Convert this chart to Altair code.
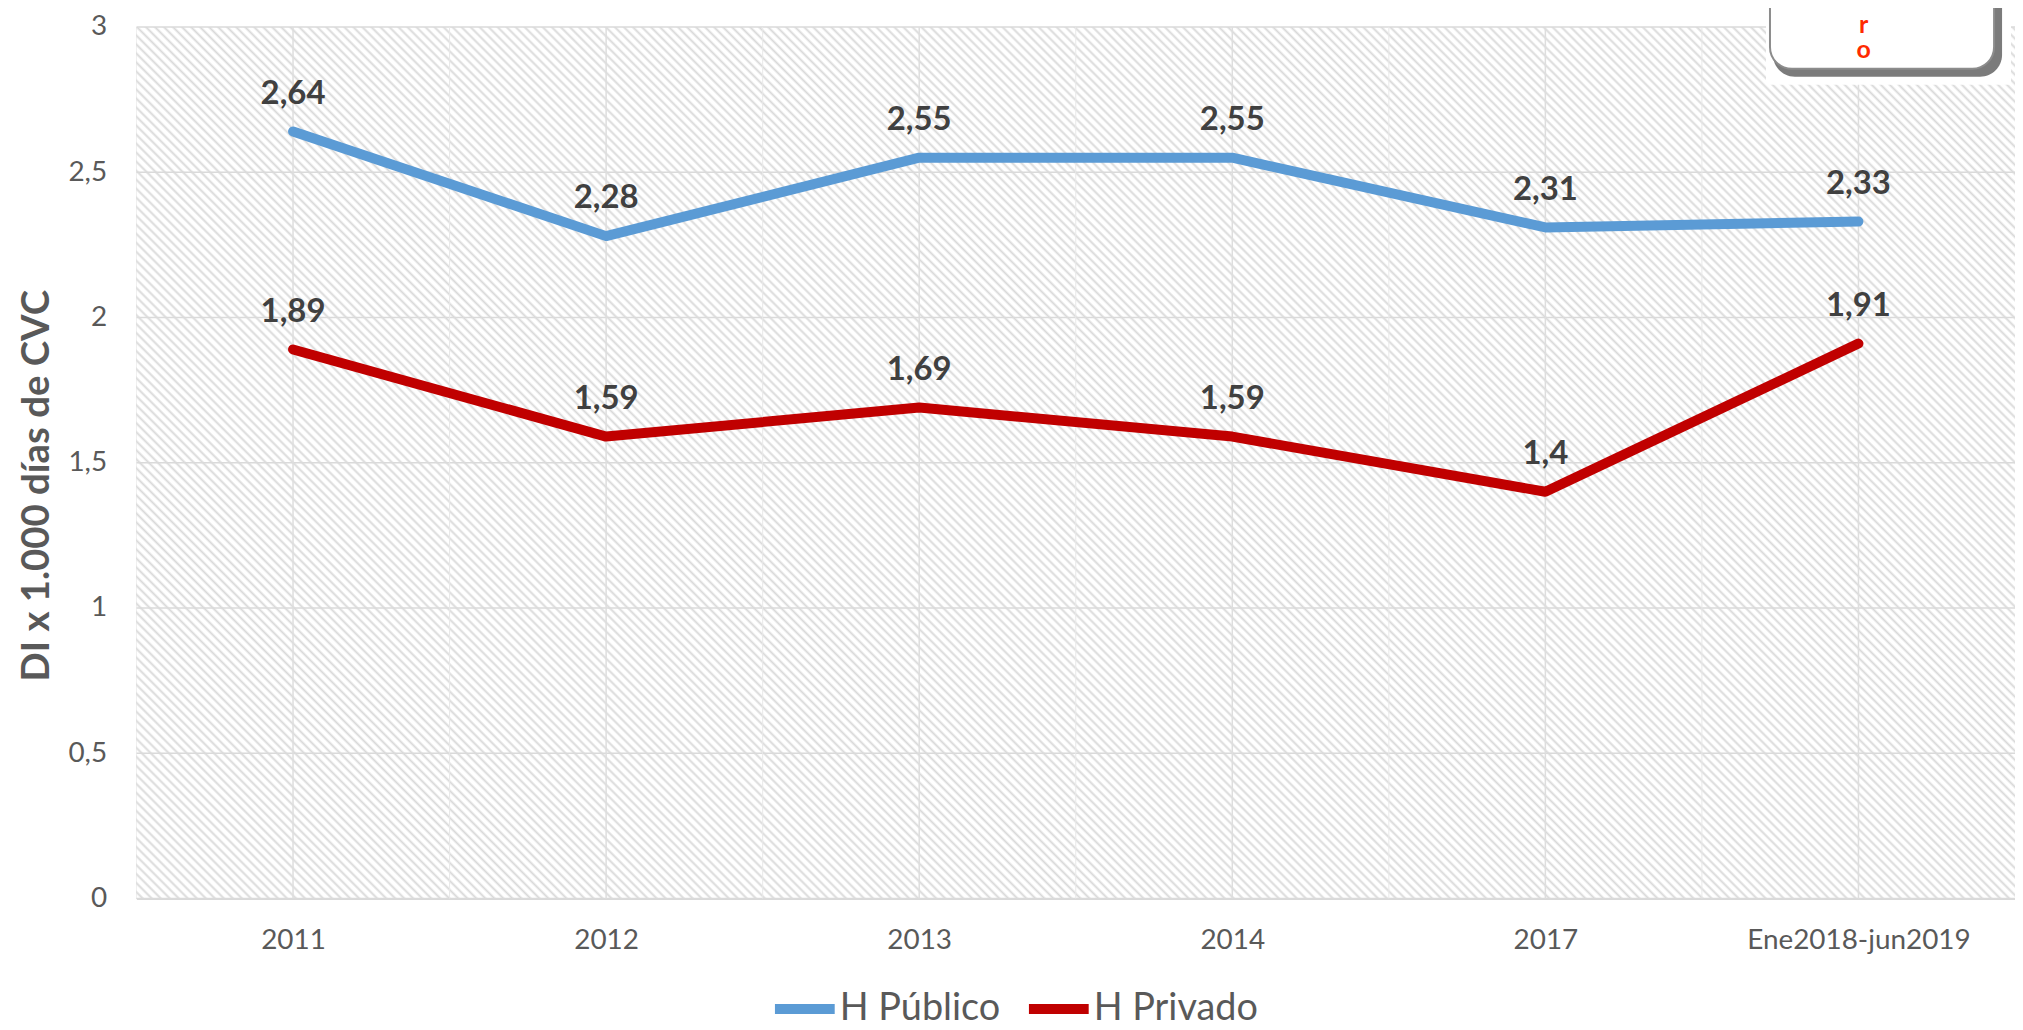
import altair as alt
import pandas as pd

# ---- data ----
categories = ["2011", "2012", "2013", "2014", "2017", "Ene2018-jun2019"]
publico = [2.64, 2.28, 2.55, 2.55, 2.31, 2.33]
privado = [1.89, 1.59, 1.69, 1.59, 1.40, 1.91]
series_names = ["H Público", "H Privado"]
series_colors = ["#5B9BD5", "#C00000"]
y_ticks = [0, 0.5, 1, 1.5, 2, 2.5, 3]


def fmt(v):
    return f"{v:g}".replace(".", ",")


rows = []
for name, vals in zip(series_names, [publico, privado]):
    for c, v in zip(categories, vals):
        rows.append({"cat": c, "serie": name, "val": v, "lab": fmt(v)})
df = pd.DataFrame(rows)

W, H = 1886, 875
FONT = "Lato"

# diagonal hatch background as a striped linear gradient (bbox units)
k = (W + H) / (W * W + H * H)
n_periods = 305
stops = []
for i in range(n_periods):
    stops.append(alt.GradientStop(color="#ffffff", offset=i / n_periods))
    stops.append(alt.GradientStop(color="#ffffff", offset=(i + 0.4) / n_periods))
    stops.append(alt.GradientStop(color="#d9d9d9", offset=(i + 0.7) / n_periods))
stops.append(alt.GradientStop(color="#ffffff", offset=1.0))
hatch = alt.LinearGradient(gradient="linear", stops=stops,
                           x1=0, y1=1, x2=k * W, y2=1 - k * H)

x_scale = alt.Scale(type="point", padding=0.5)
x_enc = alt.X("cat:N", sort=categories, scale=x_scale,
              axis=alt.Axis(title=None, labelAngle=0, labelFont=FONT,
                            labelFontSize=28, labelColor="#595959",
                            labelPadding=28, labelLimit=400,
                            ticks=False, tickSize=0,
                            domainColor="#d9d9d9", domainWidth=2, grid=False))
y_enc = alt.Y("val:Q", scale=alt.Scale(domain=[0, 3]),
              axis=alt.Axis(values=y_ticks, grid=False,
                            labelExpr="replace(toString(datum.value), '.', ',')",
                            labelFont=FONT, labelFontSize=28, labelColor="#595959",
                            labelPadding=30, ticks=False, tickSize=0,
                            domainColor="#d9d9d9",
                            title="DI x 1.000 días de CVC", titleFont=FONT,
                            titleFontSize=38.5, titleFontWeight="bold",
                            titleColor="#595959", titleX=-88, titleY=460,
                            titleBaseline="alphabetic", titleAngle=270))

one = pd.DataFrame({"k": [0]})
bg = alt.Chart(one).mark_rect(fill=hatch).encode(
    x=alt.value(0), x2=alt.value(W), y=alt.value(0), y2=alt.value(H))

hgrid = alt.Chart(pd.DataFrame({"val": y_ticks})).mark_rule(
    color="#dadada", strokeWidth=1.5).encode(y=y_enc)
vgrid = alt.Chart(pd.DataFrame({"cat": categories})).mark_rule(
    color="#dedede", strokeWidth=1.5).encode(x=x_enc)
vgrid_minor = alt.Chart(pd.DataFrame({"cat": categories[:-1]})).mark_rule(
    color="#e8e8e8", strokeWidth=1).encode(x=x_enc, xOffset=alt.value(W / 12))

lines = alt.Chart(df).mark_line(strokeWidth=10, strokeCap="round",
                                strokeJoin="round").encode(
    x=x_enc, y=y_enc,
    color=alt.Color("serie:N",
                    scale=alt.Scale(domain=series_names, range=series_colors),
                    legend=alt.Legend(title=None, orient="none", legendX=636,
                                      legendY=951, direction="horizontal",
                                      symbolType="stroke", symbolSize=3600,
                                      symbolStrokeWidth=10, labelFont=FONT,
                                      labelFontSize=38, labelColor="#595959",
                                      labelOffset=0, columnPadding=8,
                                      labelLimit=400, padding=0)),
    detail="serie:N",
)

labels = alt.Chart(df).mark_text(font=FONT, fontSize=33, fontWeight="bold",
                                 color="#404040", baseline="alphabetic",
                                 dy=-28).encode(
    x=alt.X("cat:N", sort=categories), y="val:Q", text="lab:N")

logo_bg = alt.Chart(one).mark_rect(fill="white").encode(
    x=alt.value(1636), x2=alt.value(1882), y=alt.value(-30), y2=alt.value(58))
logo_shadow = alt.Chart(one).mark_rect(cornerRadius=22, fill="#5a5a5a",
                                       opacity=0.8).encode(
    x=alt.value(1643), x2=alt.value(1873), y=alt.value(-60), y2=alt.value(50))
logo_box = alt.Chart(one).mark_rect(cornerRadius=22, fill="white",
                                    stroke="#8c8c8c", strokeWidth=2).encode(
    x=alt.value(1640), x2=alt.value(1865), y=alt.value(-60), y2=alt.value(42))
logo_ro = alt.Chart(one).mark_text(text=["r", "o"], font=FONT, fontWeight="bold",
                                   fontSize=25, lineHeight=25, color="#FF2A00",
                                   baseline="alphabetic").encode(
    x=alt.value(1734), y=alt.value(6))

chart = alt.layer(bg, hgrid, vgrid_minor, vgrid, lines, labels, logo_bg,
                  logo_shadow, logo_box, logo_ro).properties(
    width=W, height=H,
    autosize=alt.AutoSizeParams(type="none"),
    padding={"left": 129, "top": 17, "right": 0, "bottom": 130},
).configure_view(stroke="#d9d9d9")

chart.save("out.html", embed_options={"renderer": "svg", "actions": False})
